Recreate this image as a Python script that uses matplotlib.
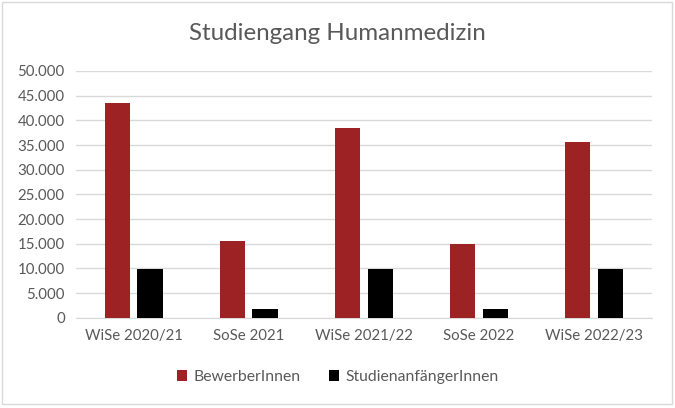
import numpy as np
import matplotlib.pyplot as plt
from matplotlib.ticker import FuncFormatter
from matplotlib.patches import Rectangle

# ==================================
# Data
# ==================================

semester = ["WiSe 2020/21", "SoSe 2021", "WiSe 2021/22", "SoSe 2022", "WiSe 2022/23"]
bewerber = [43500, 15500, 38400, 15000, 35600]
anfaenger = [9950, 1800, 9950, 1800, 9950]

RED = "#9C2224"
BLACK = "#000000"
TEXT = "#595959"
GRID = "#D9D9D9"

plt.rcParams["font.family"] = ["Lato", "DejaVu Sans"]

# ==================================
# Figure
# ==================================

fig = plt.figure(figsize=(6.75, 4.08), dpi=100)
ax = fig.add_axes([76 / 675, 1 - 317.7 / 408, (651.7 - 76) / 675, (317.7 - 71) / 408])

x = np.arange(len(semester))
w = 0.22
off = 0.142
ax.bar(x - off, bewerber, w, color=RED, label="BewerberInnen", zorder=3)
ax.bar(x + off, anfaenger, w, color=BLACK, label="StudienanfängerInnen", zorder=3)

ax.set_xlim(-0.5, len(semester) - 0.5)
ax.set_ylim(0, 50000)
ax.set_yticks(np.arange(0, 50001, 5000))
ax.yaxis.set_major_formatter(FuncFormatter(lambda v, p: f"{int(v):,}".replace(",", ".")))
ax.set_xticks(x)
ax.set_xticklabels(semester)

ax.grid(axis="y", color=GRID, linewidth=1, zorder=0)
for s in ["top", "right", "left"]:
    ax.spines[s].set_visible(False)
ax.spines["bottom"].set_color(GRID)
ax.tick_params(axis="both", length=0, labelsize=10.8, colors=TEXT)
ax.tick_params(axis="x", pad=8)
ax.tick_params(axis="y", pad=8)

fig.text(0.5, 1 - 34 / 408, "Studiengang Humanmedizin", ha="center", va="center",
         fontsize=17.4, color=TEXT)

fig.legend(loc="center", bbox_to_anchor=(0.5, 1 - 377 / 408), ncol=2, frameon=False,
           fontsize=11.3, labelcolor=TEXT, handlelength=0.65, handleheight=0.65,
           handletextpad=0.4, columnspacing=1.8)

# outer chart border
fig.patches.append(Rectangle((2 / 675, 4 / 408), 670 / 675, 402 / 408, transform=fig.transFigure,
                             fill=False, edgecolor=GRID, linewidth=1))

fig.savefig("out.png", dpi=100)
